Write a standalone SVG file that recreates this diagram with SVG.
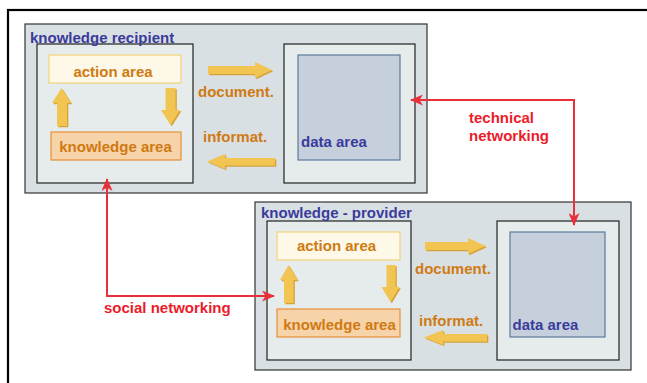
<svg xmlns="http://www.w3.org/2000/svg" width="647" height="383" viewBox="0 0 647 383">
  <style>
    .frame{fill:none;stroke:#000;stroke-width:2.2}
    .site{fill:#d9e0e3;stroke:#333;stroke-width:1.2}
    .panel{fill:#e6ecec;stroke:#222;stroke-width:1.2}
    .action{fill:#fdf8e7;stroke:#f3d27c;stroke-width:1.2}
    .know{fill:#f7d3a9;stroke:#e8903a;stroke-width:1.2}
    .data{fill:#c5d0dc;stroke:#5b7b9b;stroke-width:1.2}
    .yshade{fill:#d5a23a}
    .yarrow{fill:#f2c552}
    text{font-family:"Liberation Sans",Arial,sans-serif;font-weight:bold;font-size:15px}
    .title{fill:#3b3b9c}
    .orange{fill:#cf7a12}
    .red{fill:#ec1c2a}
    .net{fill:none;stroke:#e8303a;stroke-width:2}
  </style>
  <defs>
    <marker id="redhead" viewBox="0 0 13 11" refX="12" refY="5.5" markerWidth="13" markerHeight="11" markerUnits="userSpaceOnUse" orient="auto-start-reverse">
      <path d="M0,0 L13,5.5 L0,11 L3.5,5.5 z" fill="#e8303a"/>
    </marker>
  </defs>

  <rect class="frame" x="8" y="10" width="700" height="420"/>

  <!-- knowledge recipient site -->
  <g id="recipient">
    <rect class="site" x="25" y="24" width="402" height="169"/>
    <g id="recipient-work">
      <rect class="panel" x="37" y="44" width="156" height="139"/>
      <rect class="action" x="49" y="55" width="132" height="28"/>
      <text class="orange" x="113" y="77" text-anchor="middle">action area</text>
      <rect class="know" x="51" y="132" width="130" height="28"/>
      <text class="orange" x="115.5" y="152" text-anchor="middle">knowledge area</text>
      <polygon class="yshade" transform="translate(1.3,1.3)" points="61.5,88 71,103 67,103 67,126 57,126 57,103 52,103"/>
      <polygon class="yarrow" points="61.5,88 71,103 67,103 67,126 57,126 57,103 52,103"/>
      <polygon class="yshade" transform="translate(1.3,1.3)" points="165.5,88 175.5,88 175.5,110 180,110 170.5,125 161,110 165.5,110"/>
      <polygon class="yarrow" points="165.5,88 175.5,88 175.5,110 180,110 170.5,125 161,110 165.5,110"/>
    </g>
    <text class="title" x="30" y="43">knowledge recipient</text>
    <polygon class="yshade" transform="translate(1.3,1.3)" points="208,66 255,66 255,62 272,70 255,78 255,74 208,74"/>
    <polygon class="yarrow" points="208,66 255,66 255,62 272,70 255,78 255,74 208,74"/>
    <text class="orange" x="198" y="96.5">document.</text>
    <text class="orange" x="203" y="142">informat.</text>
    <polygon class="yshade" transform="translate(1.3,1.3)" points="207,161.5 225,154 225,158 275,158 275,165.5 225,165.5 225,169"/>
    <polygon class="yarrow" points="207,161.5 225,154 225,158 275,158 275,165.5 225,165.5 225,169"/>
    <g id="recipient-data">
      <rect class="panel" x="284" y="44" width="131" height="139"/>
      <rect class="data" x="298" y="55" width="102" height="105"/>
      <text class="title" x="301" y="147">data area</text>
    </g>
  </g>

  <!-- knowledge provider site -->
  <g id="provider">
    <rect class="site" x="255" y="202" width="376" height="168"/>
    <g id="provider-work">
      <rect class="panel" x="267" y="221" width="144" height="139"/>
      <rect class="action" x="277" y="232" width="123" height="28"/>
      <text class="orange" x="336.5" y="251" text-anchor="middle">action area</text>
      <rect class="know" x="277" y="309" width="123" height="28"/>
      <text class="orange" x="339.5" y="329.5" text-anchor="middle">knowledge area</text>
      <polygon class="yshade" transform="translate(1.3,1.3)" points="288.5,265 297.5,280 293.5,280 293.5,303 284,303 284,280 280,280"/>
      <polygon class="yarrow" points="288.5,265 297.5,280 293.5,280 293.5,303 284,303 284,280 280,280"/>
      <polygon class="yshade" transform="translate(1.3,1.3)" points="386.5,265 395.5,265 395.5,287 399.5,287 390.5,302 381.5,287 386.5,287"/>
      <polygon class="yarrow" points="386.5,265 395.5,265 395.5,287 399.5,287 390.5,302 381.5,287 386.5,287"/>
    </g>
    <text class="title" x="261" y="218">knowledge - provider</text>
    <polygon class="yshade" transform="translate(1.3,1.3)" points="425,242 468,242 468,238 485.5,246 468,254 468,250 425,250"/>
    <polygon class="yarrow" points="425,242 468,242 468,238 485.5,246 468,254 468,250 425,250"/>
    <text class="orange" x="415" y="273.5">document.</text>
    <text class="orange" x="419" y="326">informat.</text>
    <polygon class="yshade" transform="translate(1.3,1.3)" points="424,337.5 443,330 443,334 487,334 487,341.5 443,341.5 443,345"/>
    <polygon class="yarrow" points="424,337.5 443,330 443,334 487,334 487,341.5 443,341.5 443,345"/>
    <g id="provider-data">
      <rect class="panel" x="497" y="221" width="122" height="139"/>
      <rect class="data" x="510" y="232" width="95" height="105"/>
      <text class="title" x="512.5" y="329.5">data area</text>
    </g>
  </g>

  <!-- networking links -->
  <g id="connectors">
    <path class="net" d="M411,100 H574 V225" marker-start="url(#redhead)" marker-end="url(#redhead)"/>
    <path class="net" d="M107,179 V296 H274" marker-start="url(#redhead)" marker-end="url(#redhead)"/>
  </g>
  <text class="red" x="469" y="123">technical</text>
  <text class="red" x="469" y="141">networking</text>
  <text class="red" x="104" y="313">social networking</text>
</svg>
